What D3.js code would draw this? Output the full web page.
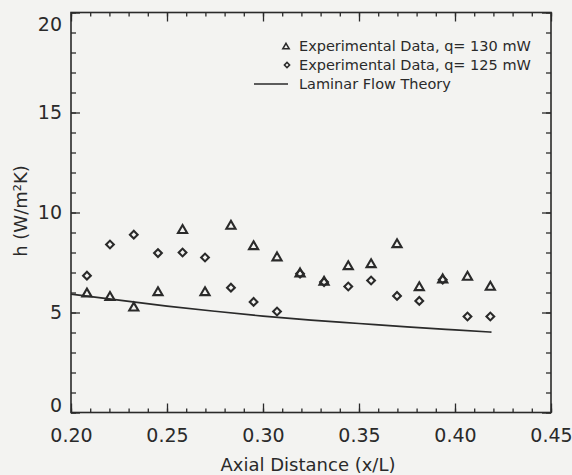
<!DOCTYPE html>
<html><head><meta charset="utf-8">
<script src="https://cdn.jsdelivr.net/npm/d3@7"></script>
<style>body{margin:0;background:#f3f3f1}svg{display:block}</style>
</head><body><svg id="c" width="572" height="475"></svg>
<script>
// ---- data ----
const xDist = [0.2083,0.2203,0.2327,0.2453,0.2581,0.2698,0.2833,0.2951,0.3073,0.3193,0.3318,0.3444,0.3563,0.3698,0.3814,0.3936,0.4065,0.4184];
const h130  = [5.93,5.76,5.23,6.00,9.11,6.00,9.32,8.30,7.74,6.94,6.52,7.30,7.40,8.40,6.25,6.64,6.77,6.27];
const h125  = [6.84,8.40,8.89,7.97,8.00,7.75,6.24,5.53,5.05,6.94,6.52,6.30,6.60,5.83,5.58,6.64,4.80,4.80];
const theoryX = [0.200,0.225,0.250,0.275,0.300,0.325,0.350,0.375,0.400,0.419];
const theoryH = [5.92,5.62,5.32,5.06,4.82,4.62,4.45,4.28,4.13,4.02];
const xTicks = [0.20,0.25,0.30,0.35,0.40,0.45];
const xMinor = d3.range(0,26).map(i=>+(0.20+i*0.01).toFixed(2));
const yTicks = [0,5,10,15,20];
const yMinor = d3.range(0,21);
const legendLabels = ["Experimental Data, q= 130 mW","Experimental Data, q= 125 mW","Laminar Flow Theory"];
const xTitle = "Axial Distance (x/L)";
const yTitle = "h (W/m\u00B2K)";

// ---- layout ----
const L=71,R=551,T=12.5,B=412.5;
const ink="#2a2a2a";
const font="DejaVu Sans";
const svg=d3.select("#c");
svg.append("rect").attr("width",572).attr("height",475).attr("fill","#f3f3f1");

const x=d3.scaleLinear().domain([0.20,0.45]).range([L,R]);
const y=d3.scaleLinear().domain([0,20]).range([B,T]);

function style(g){
  g.select(".domain").remove();
  g.selectAll(".tick line").attr("stroke",ink).attr("stroke-width",1.3);
  g.selectAll("text").attr("fill",ink).attr("font-family",font);
}
// minor ticks
svg.append("g").attr("transform",`translate(0,${B})`).call(d3.axisBottom(x).tickValues(xMinor).tickSize(-4).tickFormat("")).call(style);
svg.append("g").attr("transform",`translate(0,${T})`).call(d3.axisTop(x).tickValues(xMinor).tickSize(-4).tickFormat("")).call(style);
svg.append("g").attr("transform",`translate(${L},0)`).call(d3.axisLeft(y).tickValues(yMinor).tickSize(-5).tickFormat("")).call(style);
svg.append("g").attr("transform",`translate(${R},0)`).call(d3.axisRight(y).tickValues(yMinor).tickSize(-5).tickFormat("")).call(style);
// major ticks
const gx=svg.append("g").attr("transform",`translate(0,${B})`)
  .call(d3.axisBottom(x).tickValues(xTicks).tickSize(-9).tickPadding(16).tickFormat(d3.format(".2f"))).call(style);
gx.selectAll("text").attr("font-size",19);
svg.append("g").attr("transform",`translate(0,${T})`).call(d3.axisTop(x).tickValues(xTicks).tickSize(-9).tickFormat("")).call(style);
const gy=svg.append("g").attr("transform",`translate(${L},0)`)
  .call(d3.axisLeft(y).tickValues(yTicks).tickSize(-9).tickPadding(9).tickFormat(d3.format("d"))).call(style);
gy.selectAll("text").attr("font-size",19).attr("dy",d=>d===20?"0.95em":(d===0?"-0.05em":"0.32em"));
svg.append("g").attr("transform",`translate(${R},0)`).call(d3.axisRight(y).tickValues(yTicks).tickSize(-9).tickFormat("")).call(style);

// frame
svg.append("rect").attr("x",L).attr("y",T).attr("width",R-L).attr("height",B-T)
  .attr("fill","none").attr("stroke",ink).attr("stroke-width",1.6);

// theory line
svg.append("path").datum(theoryX.map((v,i)=>[v,theoryH[i]]))
  .attr("d",d3.line().x(d=>x(d[0])).y(d=>y(d[1])).curve(d3.curveMonotoneX))
  .attr("fill","none").attr("stroke",ink).attr("stroke-width",1.6);

const tri=d3.symbol().type(d3.symbolTriangle).size(36);
const dia=d3.symbol().type(d3.symbolSquare).size(30);
svg.append("g").selectAll("path").data(xDist.map((v,i)=>[v,h130[i]])).join("path")
  .attr("d",tri).attr("transform",d=>`translate(${x(d[0])},${y(d[1])})`)
  .attr("fill","none").attr("stroke",ink).attr("stroke-width",2.1);
svg.append("g").selectAll("path").data(xDist.map((v,i)=>[v,h125[i]])).join("path")
  .attr("d",dia).attr("transform",d=>`translate(${x(d[0])},${y(d[1])}) rotate(45)`)
  .attr("fill","none").attr("stroke",ink).attr("stroke-width",2.1);

// legend
const lg=svg.append("g").attr("font-family",font).attr("font-size",14.5).attr("fill",ink);
const rows=[46,65,84];
lg.append("path").attr("d",d3.symbol().type(d3.symbolTriangle).size(18)).attr("transform",`translate(286,${rows[0]+1})`)
  .attr("fill","none").attr("stroke",ink).attr("stroke-width",1.5);
lg.append("path").attr("d",d3.symbol().type(d3.symbolSquare).size(14)).attr("transform",`translate(287,${rows[1]}) rotate(45)`)
  .attr("fill","none").attr("stroke",ink).attr("stroke-width",1.5);
lg.append("line").attr("x1",254).attr("x2",288).attr("y1",rows[2]).attr("y2",rows[2]).attr("stroke",ink).attr("stroke-width",1.4);
lg.selectAll("text").data(legendLabels).join("text").attr("x",299).attr("y",(d,i)=>rows[i]).attr("dy","0.35em").text(d=>d);

// titles
svg.append("text").attr("x",308).attr("y",465).attr("dy","0.35em").attr("text-anchor","middle")
  .attr("font-family",font).attr("font-size",18).attr("fill",ink).text(xTitle);
svg.append("text").attr("transform","translate(21,211) rotate(-90)").attr("dy","0.35em").attr("text-anchor","middle")
  .attr("font-family",font).attr("font-size",18).attr("fill",ink).text(yTitle);
</script></body></html>
